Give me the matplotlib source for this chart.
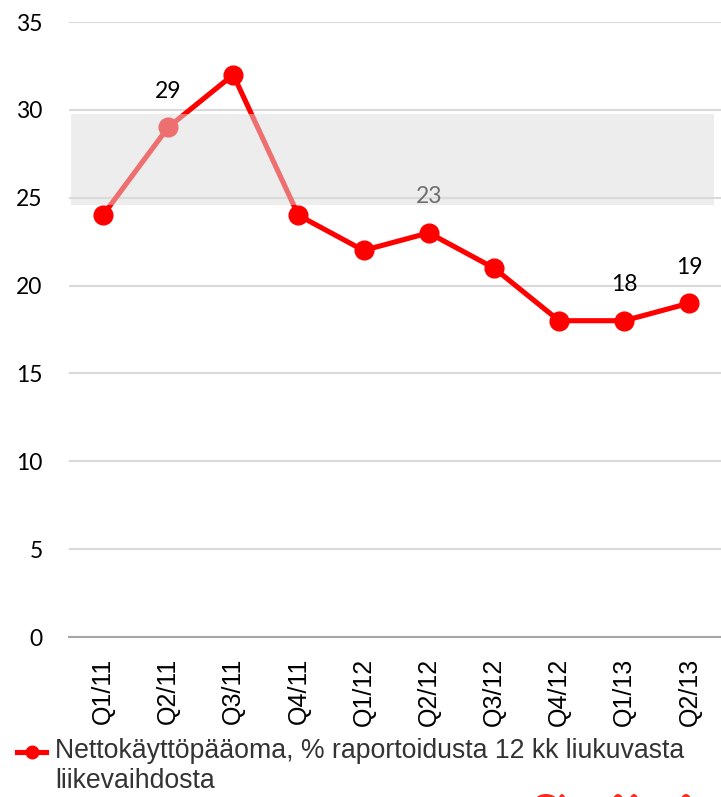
import matplotlib
matplotlib.use("Agg")
import matplotlib.pyplot as plt
from matplotlib.patches import Rectangle, Ellipse
from matplotlib.lines import Line2D

quarters = ["Q1/11", "Q2/11", "Q3/11", "Q4/11", "Q1/12", "Q2/12", "Q3/12", "Q4/12", "Q1/13", "Q2/13"]
values = [24, 29, 32, 24, 22, 23, 21, 18, 18, 19]
labelled = {1: "29", 5: "23", 8: "18", 9: "19"}
band_low, band_high = 24.6, 29.77
series_name = "Nettokäyttöpääoma, % raportoidusta 12 kk liukuvasta\nliikevaihdosta"
yticks = [0, 5, 10, 15, 20, 25, 30, 35]

W, H = 721, 797
fig = plt.figure(figsize=(W / 100, H / 100), dpi=100)
ax = fig.add_axes([69 / W, 1 - 637 / H, (722 - 69) / W, (637 - 22) / H])

x = list(range(len(quarters)))
ax.plot(x, values, color="#FF0000", lw=3.7, marker="o", ms=13.5, zorder=3)

for i, t in labelled.items():
    ax.annotate(t, (i, values[i]), xytext=(0, 26), textcoords="offset points",
                ha="center", va="center", fontsize=16.5, family="Lato", color="black", zorder=4)

ax.add_patch(Rectangle((-0.49, band_low), 9.87, band_high - band_low,
                       facecolor=(220 / 255, 220 / 255, 220 / 255), alpha=0.51, lw=0, zorder=10))

ax.set_xlim(-0.52, 9.5)
ax.set_ylim(0, 35)
ax.set_yticks(yticks)
ax.set_xticks(x)
ax.set_xticklabels(quarters, rotation=90, fontsize=18, family="Liberation Sans")
for lab in ax.get_yticklabels():
    lab.set_fontsize(16.5)
    lab.set_family("Lato")
ax.tick_params(axis="both", length=0)
ax.tick_params(axis="y", pad=19)
ax.tick_params(axis="x", pad=15)
ax.grid(axis="y", color="#D9D9D9", lw=1.5, zorder=0)
ax.set_axisbelow(True)
for s in ["top", "right", "left"]:
    ax.spines[s].set_visible(False)
ax.spines["bottom"].set_color("#A6A6A6")
ax.spines["bottom"].set_linewidth(1.5)
ax.spines["bottom"].set_zorder(1)

# legend drawn manually so that the key sits beside the first line of text
ly = 1 - 752 / H
fig.add_artist(Line2D([17 / W, 46 / W], [ly, ly], transform=fig.transFigure,
                      color="#FF0000", lw=3.7))
fig.add_artist(Line2D([31.5 / W], [ly], transform=fig.transFigure, color="#FF0000",
                      marker="o", ms=9, lw=0))
fig.text(55 / W, 1 - 738 / H, series_name, ha="left", va="top", fontsize=19.2,
         family="Liberation Sans", color="#333333", linespacing=1.22)

# cropped logo fragments at the bottom edge
for cx, w in [(546, 26), (562, 8), (618, 12), (634, 10), (686, 12)]:
    fig.add_artist(Ellipse((cx / W, 1 - 804 / H), w / W, 20 / H, transform=fig.transFigure,
                           facecolor="#FF2A1A", lw=0))

fig.savefig("out.png", dpi=100)
